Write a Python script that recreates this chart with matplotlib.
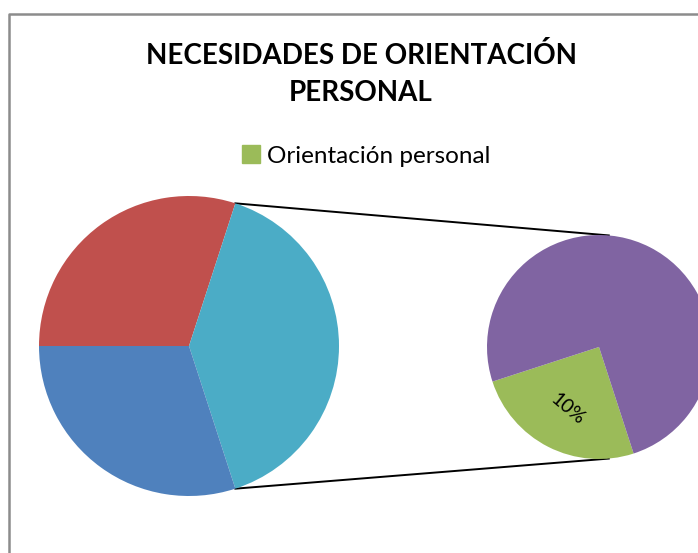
import matplotlib
matplotlib.use('Agg')
import matplotlib.pyplot as plt
from matplotlib.patches import Patch
import numpy as np

W, H = 698, 553

# datos del grafico (pie de pie)
titulo = 'NECESIDADES DE ORIENTACIÓN\nPERSONAL'
serie = 'Orientación personal'
principal_valores = [30, 30]          # rojo, azul
secundario_valores = [10, 30]         # verde (Orientación personal), morado
secundario_etiquetas = ['10%', '']

rojo, azul, turquesa = '#C0504D', '#4F81BD', '#4BACC6'
verde, morado = '#9BBB59', '#8064A2'


def px(x, y):
    # coordenadas de pixel (origen arriba a la izquierda) -> datos
    return x, H - y


fig = plt.figure(figsize=(W / 100, H / 100), dpi=100)
ax = fig.add_axes([0, 0, 1, 1])

# pie principal: el trozo "otros" es la suma del pie secundario
otros = sum(secundario_valores)
c1, r1 = px(189, 346), 150
w1, _ = ax.pie([principal_valores[0], otros, principal_valores[1]],
               colors=[rojo, turquesa, azul], startangle=180, counterclock=False,
               center=c1, radius=r1, frame=True)

# pie secundario
c2, r2 = px(599, 347), 112
w2, t2 = ax.pie(secundario_valores, colors=[verde, morado], labels=secundario_etiquetas,
                labeldistance=0.62, startangle=198, counterclock=True,
                center=c2, radius=r2, frame=True)
for t in t2:
    t.set_rotation(-40)
    t.set_ha('center')
    t.set_va('center')
    t.set_fontsize(14)
    t.set_family('Lato')

# lineas de union
cuña = w1[1]
for ang, ang2 in [(cuña.theta1, -85), (cuña.theta2, 85)]:
    a = np.radians(ang)
    b = np.radians(ang2)
    x0, y0 = c1[0] + r1 * np.cos(a), c1[1] + r1 * np.sin(a)
    x1, y1 = c2[0] + r2 * np.cos(b), c2[1] + r2 * np.sin(b)
    ax.plot([x0, x1], [y0, y1], color='black', lw=1.4, zorder=0)

# marco del area del grafico
fx, fy = zip(*[px(9, H + 5), px(9, 14), px(W + 5, 14)])
ax.plot(fx, fy, color='#8c8c8c', lw=1.8, solid_capstyle='butt')

# titulo y leyenda
tx, ty = px(361, 74)
ax.text(tx, ty, titulo, ha='center', va='center', fontsize=20, fontweight='bold',
        family='Lato', linespacing=1.55)

leg = ax.legend(handles=[Patch(color=verde)], labels=[serie], loc='center',
                bbox_to_anchor=(366 / W, 1 - 156 / H), frameon=False,
                prop={'family': 'Lato', 'size': 17.5}, handlelength=0.75,
                handleheight=0.75, handletextpad=0.3)

ax.set_xlim(0, W)
ax.set_ylim(0, H)
ax.set_aspect('equal')
ax.axis('off')

fig.savefig('out.png', dpi=100)
